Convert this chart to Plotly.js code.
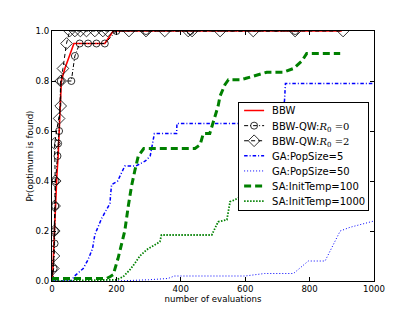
<!DOCTYPE html>
<html>
<head>
<meta charset="utf-8">
<script src="https://cdn.plot.ly/plotly-3.0.1.min.js"></script>
<style>html,body{margin:0;padding:0;background:#fff;}#chart{width:415px;height:313px;}</style>
</head>
<body>
<div id="chart"></div>
<script>
// ---- data ----
const bbwX = [0, 3, 6, 9, 12, 15, 19, 24, 29, 40, 68, 164, 190, 900];
const bbwY = [0, 0.05, 0.15, 0.25, 0.35, 0.42, 0.5, 0.64, 0.8, 0.85, 0.95, 0.95, 1.0, 1.0];

const qw0X = [0, 5, 8, 9, 10, 11, 17, 19, 22, 27, 60, 71, 86, 112, 138, 164, 200, 292, 430, 755];
const qw0Y = [0, 0.05, 0.15, 0.2, 0.3, 0.4, 0.5, 0.55, 0.6, 0.8, 0.8, 0.9, 0.95, 0.95, 0.95, 0.95, 1.0, 1.0, 1.0, 1.0];

const qw2X = [0, 4, 6, 7, 8, 10, 8, 22, 27, 27, 34, 45, 55, 71, 88, 107, 133, 158, 173, 239, 292, 350, 423, 435, 522, 625, 755, 904];
const qw2Y = [0, 0.05, 0.1, 0.2, 0.3, 0.4, 0.55, 0.65, 0.7, 0.8, 0.85, 0.95, 1.0, 1.0, 1.0, 1.0, 1.0, 1.0, 1.0, 1.0, 1.0, 1.0, 1.0, 1.0, 1.0, 1.0, 1.0, 1.0];

const ga5X = [0, 60, 70, 97, 112, 126, 133, 143, 154, 167, 180, 182, 185, 204, 226, 260, 290, 305, 318, 387, 388, 700, 722, 725, 1000];
const ga5Y = [0, 0, 0.02, 0.05, 0.085, 0.13, 0.185, 0.22, 0.25, 0.28, 0.31, 0.345, 0.385, 0.4, 0.46, 0.46, 0.48, 0.5, 0.59, 0.59, 0.63, 0.63, 0.72, 0.79, 0.79];

const ga50X = [0, 200, 300, 360, 380, 600, 660, 750, 796, 848, 895, 926, 1000];
const ga50Y = [0, 0, 0.005, 0.01, 0.02, 0.02, 0.03, 0.03, 0.08, 0.08, 0.2, 0.215, 0.24];

const sa100X = [0, 169, 180, 190, 205, 226, 237, 247, 257, 268, 285, 444, 460, 470, 490, 501, 516, 522, 537, 548, 584, 600, 667, 718, 750, 776, 791, 895];
const sa100Y = [0.01, 0.01, 0.017, 0.025, 0.09, 0.2, 0.3, 0.38, 0.44, 0.5, 0.53, 0.53, 0.545, 0.59, 0.59, 0.635, 0.7, 0.74, 0.785, 0.805, 0.805, 0.81, 0.835, 0.835, 0.85, 0.88, 0.91, 0.91];

const sa1000X = [0, 200, 221, 242, 257, 273, 294, 309, 335, 340, 496, 516, 543, 553, 568, 590, 700, 900];
const sa1000Y = [0, 0.005, 0.017, 0.045, 0.07, 0.1, 0.125, 0.137, 0.157, 0.184, 0.184, 0.237, 0.245, 0.317, 0.325, 0.34, 0.36, 0.4];

const names = ['BBW',
  'BBW-QW:<span style="font-family:\'DejaVu Serif\'"><i>R</i><sub>0</sub> =0</span>',
  'BBW-QW:<span style="font-family:\'DejaVu Serif\'"><i>R</i><sub>0</sub> =2</span>',
  'GA:PopSize=5', 'GA:PopSize=50', 'SA:InitTemp=100', 'SA:InitTemp=1000'];

const xTicks = [0, 200, 400, 600, 800, 1000];
const yTicks = [0, 0.2, 0.4, 0.6, 0.8, 1.0];

const traces = [
  {x: bbwX, y: bbwY, name: names[0], mode: 'lines', line: {color: '#ff0000', width: 1.6}},
  {x: qw0X, y: qw0Y, name: names[1], mode: 'lines+markers', line: {color: '#000000', width: 1, dash: '4px,2px,1px,2px'},
   marker: {symbol: 'circle-open', size: 7, color: '#000000', line: {width: 0.8}}, cliponaxis: true},
  {x: qw2X, y: qw2Y, name: names[2], mode: 'lines+markers', line: {color: '#000000', width: 1, dash: '4px,3px'},
   marker: {symbol: 'diamond-open', size: 9, color: '#000000', line: {width: 0.8}}, cliponaxis: true},
  {x: ga5X, y: ga5Y, name: names[3], mode: 'lines', line: {color: '#0000ff', width: 1.5, dash: '3.5px,2px,1px,2px'}},
  {x: ga50X, y: ga50Y, name: names[4], mode: 'lines', line: {color: '#0000ff', width: 1, dash: '1px,2px'}},
  {x: sa100X, y: sa100Y, name: names[5], mode: 'lines', line: {color: '#008000', width: 3, dash: '7px,4px'}},
  {x: sa1000X, y: sa1000Y, name: names[6], mode: 'lines', line: {color: '#008000', width: 1.8, dash: '1.5px,1.5px'}}
];

const axisCommon = {
  showline: true, mirror: 'allticks', linecolor: '#000', linewidth: 1,
  ticks: 'inside', ticklen: 4, tickcolor: '#000', tickwidth: 1,
  showgrid: false, zeroline: false,
  tickfont: {family: 'DejaVu Sans', size: 8.6, color: '#000'}
};

const layout = {
  width: 415, height: 313,
  margin: {l: 52, r: 41, t: 31, b: 32},
  paper_bgcolor: '#fff', plot_bgcolor: '#fff',
  font: {family: 'DejaVu Sans', size: 8.6, color: '#000'},
  showlegend: true,
  xaxis: Object.assign({}, axisCommon, {
    range: [0, 1000], tickvals: xTicks, ticktext: xTicks.map(String),
    title: {text: 'number of evaluations', font: {family: 'DejaVu Sans', size: 8.6, color: '#000'}, standoff: 0}
  }),
  yaxis: Object.assign({}, axisCommon, {
    range: [0, 1], tickvals: yTicks, ticktext: yTicks.map(v => v.toFixed(1)),
    title: {text: 'Pr(optimum is found)', font: {family: 'DejaVu Sans', size: 8.6, color: '#000'}, standoff: 0}
  }),
  legend: {
    x: 0.578, y: 0.717, xanchor: 'left', yanchor: 'top',
    bgcolor: '#fff', bordercolor: '#000', borderwidth: 1,
    font: {family: 'DejaVu Sans', size: 10, color: '#000'},
    itemwidth: 30, tracegroupgap: 0
  }
};

Plotly.newPlot('chart', traces, layout, {displayModeBar: false, staticPlot: true}).then(function (gd) {
  // tighten the legend to match the compact matplotlib legend
  try {
    const leg = gd.querySelector('g.legend');
    if (!leg) return;
    const items = Array.from(leg.querySelectorAll('g.traces'));
    const step = 15.1;
    const first = 8.8;
    const textShift = 7;
    items.forEach(function (g, i) {
      const m = /translate\(\s*([-\d.]+)[ ,]+([-\d.]+)\s*\)/.exec(g.getAttribute('transform') || '');
      if (!m) return;
      const x = parseFloat(m[1]);
      g.setAttribute('transform', 'translate(' + x + ',' + (first + i * step) + ')');
      const t = g.querySelector('text.legendtext');
      if (t) {
        const tx = parseFloat(t.getAttribute('x') || '40') - textShift;
        t.setAttribute('x', tx);
        t.querySelectorAll('tspan[x]').forEach(function (ts) {
          ts.setAttribute('x', parseFloat(ts.getAttribute('x')) - textShift);
        });
      }
      g.querySelectorAll('path.js-line').forEach(function (p) {
        p.setAttribute('d', 'M5,0h20');
      });
      g.querySelectorAll('g.legendpoints path.scatterpts').forEach(function (p) {
        p.setAttribute('transform', 'translate(15,0)');
      });
    });
    const newH = first + (items.length - 1) * step + 9;
    const bg = leg.querySelector('rect.bg');
    if (bg) {
      bg.setAttribute('height', newH);
      bg.setAttribute('width', parseFloat(bg.getAttribute('width')) - textShift - 3);
    }
    const sb = leg.querySelector('g.scrollbox');
    if (sb) {
      const cp = sb.getAttribute('clip-path');
      const idm = cp && /url\(['"]?#([^'")]+)['"]?\)/.exec(cp);
      if (idm) {
        const r = document.getElementById(idm[1]);
        const rr = r && r.querySelector('rect');
        if (rr) rr.setAttribute('height', newH);
      }
    }
  } catch (e) { /* leave legend as drawn */ }
});
</script>
</body>
</html>
